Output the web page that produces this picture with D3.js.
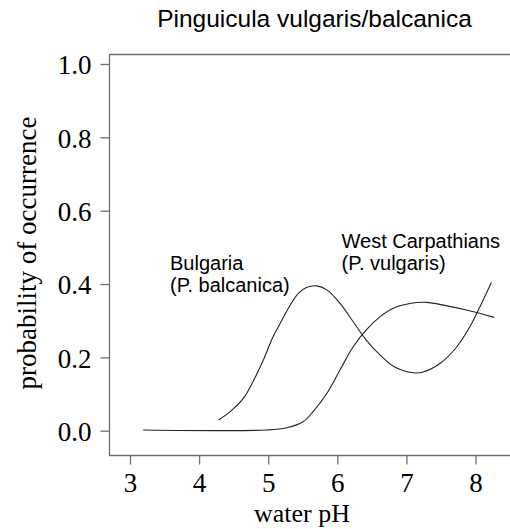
<!DOCTYPE html>
<html>
<head>
<meta charset="utf-8">
<script src="https://cdn.jsdelivr.net/npm/d3@7"></script>
<style>
  html, body { margin: 0; padding: 0; background: #fff; }
  svg { display: block; }
</style>
</head>
<body>
<svg id="chart" width="510" height="529"></svg>
<script>
// Fitted probability of occurrence along the water pH gradient
const vulgarisPH   = [3.19, 4.98, 5.27, 5.51, 5.65, 5.85, 6.04, 6.23, 6.42, 6.62, 6.81, 7.05, 7.29, 7.57, 7.87, 8.27];
const vulgarisProb = [0.002, 0.002, 0.008, 0.025, 0.052, 0.102, 0.166, 0.229, 0.275, 0.311, 0.334, 0.347, 0.350, 0.341, 0.329, 0.309];

const balcanicaPH   = [4.28, 4.45, 4.64, 4.78, 4.93, 5.07, 5.20, 5.32, 5.44, 5.56, 5.70, 5.85, 6.04, 6.23, 6.42, 6.62, 6.81, 7.10, 7.24, 7.49, 7.73, 7.92, 8.11, 8.23];
const balcanicaProb = [0.029, 0.052, 0.088, 0.134, 0.193, 0.256, 0.302, 0.343, 0.375, 0.391, 0.395, 0.384, 0.347, 0.297, 0.247, 0.206, 0.176, 0.158, 0.160, 0.184, 0.229, 0.284, 0.356, 0.404];

const xTicks = [3, 4, 5, 6, 7, 8];
const yTicks = [0.0, 0.2, 0.4, 0.6, 0.8, 1.0];

const svg = d3.select("#chart");

// Plot frame (open on the right, runs off the edge)
const frame = { left: 109.5, top: 54.5, bottom: 455.5, right: 512 };

const x = d3.scaleLinear().domain([3, 8]).range([130, 475.5]);
const y = d3.scaleLinear().domain([0, 1]).range([430.7, 64]);

const axisColor = "#6e6e6e";
const serif = "'Liberation Serif', 'Times New Roman', serif";
const sans = "'Liberation Sans', Arial, sans-serif";

// frame lines
svg.append("path")
  .attr("d", `M${frame.right},${frame.top}H${frame.left}V${frame.bottom}H${frame.right}`)
  .attr("fill", "none")
  .attr("stroke", axisColor)
  .attr("stroke-width", 1.3);

// y axis
const yAxis = d3.axisLeft(y).tickValues(yTicks).tickSize(9).tickPadding(9)
  .tickFormat(d3.format(".1f"));
const gy = svg.append("g").attr("transform", `translate(${frame.left},0)`).call(yAxis);
gy.select(".domain").remove();
gy.selectAll(".tick line").attr("stroke", axisColor).attr("stroke-width", 1.3);
gy.selectAll(".tick text")
  .attr("fill", "#000")
  .style("font-family", serif)
  .style("font-size", "27px")
  .attr("dy", "0.36em");

// x axis
const xAxis = d3.axisBottom(x).tickValues(xTicks).tickSize(9).tickPadding(8)
  .tickFormat(d3.format("d"));
const gx = svg.append("g").attr("transform", `translate(0,${frame.bottom})`).call(xAxis);
gx.select(".domain").remove();
gx.selectAll(".tick line").attr("stroke", axisColor).attr("stroke-width", 1.3);
gx.selectAll(".tick text")
  .attr("fill", "#000")
  .style("font-family", serif)
  .style("font-size", "27px");

// axis titles
svg.append("text")
  .attr("x", 302).attr("y", 522)
  .attr("text-anchor", "middle")
  .style("font-family", serif).style("font-size", "26px")
  .text("water pH");

svg.append("text")
  .attr("transform", `translate(36,253) rotate(-90)`)
  .attr("text-anchor", "middle")
  .style("font-family", serif).style("font-size", "27px")
  .text("probability of occurrence");

// chart title
svg.append("text")
  .attr("x", 314.5).attr("y", 27)
  .attr("text-anchor", "middle")
  .style("font-family", sans).style("font-size", "24.5px")
  .text("Pinguicula vulgaris/balcanica");

// response curves
const line = d3.line()
  .x(d => x(d[0]))
  .y(d => y(d[1]))
  .curve(d3.curveCatmullRom.alpha(0.5));

const series = [
  d3.zip(vulgarisPH, vulgarisProb),
  d3.zip(balcanicaPH, balcanicaProb)
];

svg.selectAll("path.curve")
  .data(series)
  .join("path")
  .attr("class", "curve")
  .attr("d", line)
  .attr("fill", "none")
  .attr("stroke", "#222")
  .attr("stroke-width", 1.1);

// curve labels
const labels = [
  { x: 170, y: 270, lines: ["Bulgaria", "(P. balcanica)"] },
  { x: 341.5, y: 247.5, lines: ["West Carpathians", "(P. vulgaris)"] }
];
labels.forEach(l => {
  const t = svg.append("text")
    .attr("x", l.x).attr("y", l.y)
    .style("font-family", sans).style("font-size", "20px");
  l.lines.forEach((s, i) => {
    t.append("tspan").attr("x", l.x).attr("dy", i === 0 ? 0 : 22).text(s);
  });
});
</script>
</body>
</html>
